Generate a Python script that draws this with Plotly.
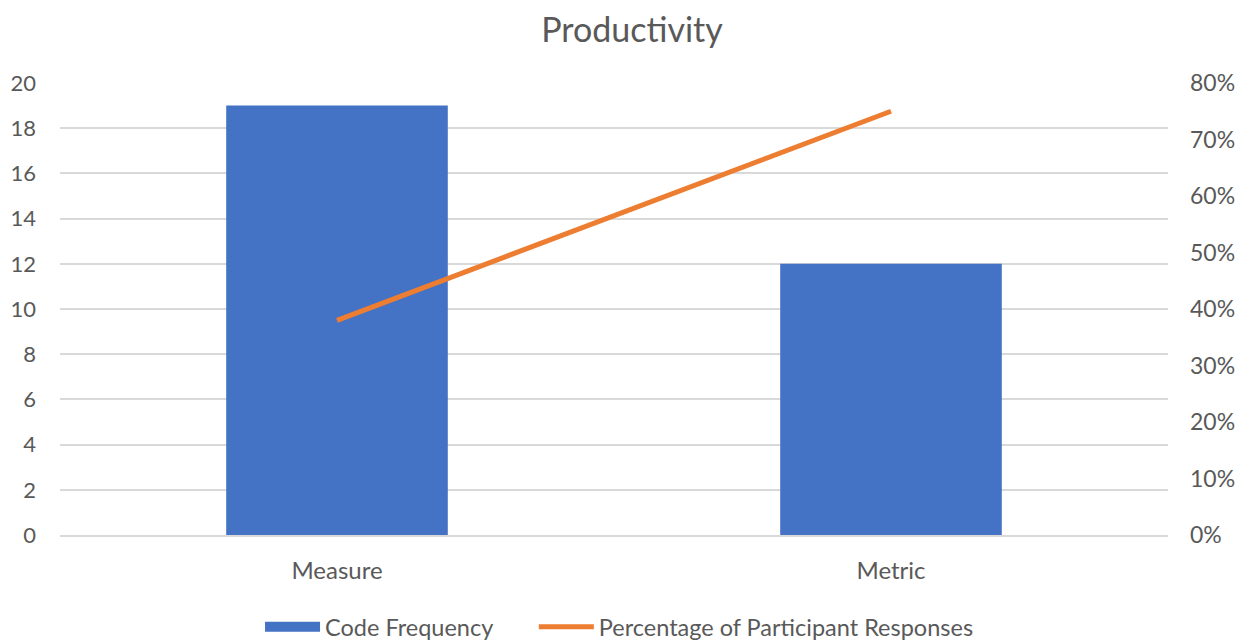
import plotly.graph_objects as go

categories = ["Measure", "Metric"]
code_frequency = [19, 12]
pct_responses = [0.38, 0.75]

left_ticks = list(range(0, 21, 2))
right_ticks = [i / 10 for i in range(0, 9)]

font_family = "Lato, Open Sans, sans-serif"
txt = "#595959"
blue = "#4472C4"
orange = "#ED7D31"
pad = "\u00a0" * 6

fig = go.Figure()
fig.add_trace(go.Bar(
    x=categories, y=code_frequency, name="Code Frequency",
    marker=dict(color=blue, line=dict(width=0)), width=0.4, showlegend=False,
))
# legend entry for the bars (wide block symbol)
fig.add_trace(go.Scatter(
    x=[None], y=[None], name="Code Frequency" + pad, mode="lines",
    line=dict(color=blue, width=16), showlegend=True, hoverinfo="skip",
))
fig.add_trace(go.Scatter(
    x=categories, y=pct_responses, name="Percentage of Participant Responses",
    mode="lines", line=dict(color=orange, width=5), yaxis="y2",
))

fig.update_layout(
    width=1248, height=644,
    paper_bgcolor="white", plot_bgcolor="white",
    margin=dict(l=52, r=88, t=75, b=117),
    title=dict(text="Productivity", x=0.5, xanchor="center", y=0.9658, yanchor="middle",
               font=dict(family=font_family, size=34, color=txt)),
    font=dict(family=font_family, size=24, color=txt),
    xaxis=dict(showgrid=False, showline=True, linecolor="#D9D9D9", linewidth=1.5,
               ticks="", tickfont=dict(size=24, color=txt), automargin=False,
               ticklabelstandoff=13),
    yaxis=dict(range=[0, 20], tickvals=left_ticks, showgrid=True, gridcolor="#D9D9D9",
               gridwidth=1.5, zeroline=False, ticks="", tickfont=dict(size=22, color=txt),
               ticklabelstandoff=23, automargin=False),
    yaxis2=dict(range=[0, 0.8], tickvals=right_ticks, tickformat=".0%", overlaying="y",
                side="right", showgrid=False, zeroline=False, ticks="",
                tickfont=dict(size=23, color=txt), ticklabelstandoff=21, automargin=False),
    showlegend=True,
    legend=dict(orientation="h", x=0.505, xanchor="center", xref="paper",
                y=0.0388, yanchor="middle", yref="container",
                font=dict(size=23.5, color=txt), itemwidth=55, tracegroupgap=0),
)

fig.write_html("out.html")
